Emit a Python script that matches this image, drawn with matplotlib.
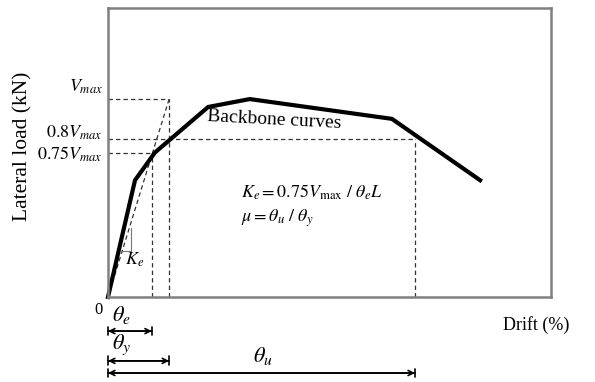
import matplotlib.pyplot as plt

plt.rcParams['font.family'] = ['Liberation Serif', 'DejaVu Serif']
plt.rcParams['mathtext.fontset'] = 'stix'

# backbone curve (drift %, load normalised to Vmax)
drift = [0.0, 0.61, 1.06, 2.26, 3.20, 6.41, 8.40]
load = [0.0, 0.59, 0.73, 0.96, 1.00, 0.90, 0.59]

v_max = 1.0
theta_e = 0.99
theta_y = 1.38
theta_u = 6.93

fig = plt.figure(figsize=(5.95, 3.82), dpi=100)
ax = fig.add_axes([0.1815, 0.2225, 0.7445, 0.7565])
ax.set_xlim(0, 10)
ax.set_ylim(0, 1.46)
ax.set_xticks([])
ax.set_yticks([])
for s in ax.spines.values():
    s.set_color('#808080')
    s.set_linewidth(1.8)

dash = dict(color='#333333', lw=0.9, ls=(0, (3.5, 2.5)))
# horizontal reference lines
ax.plot([0, theta_y], [v_max, v_max], **dash)
ax.plot([0, theta_u], [0.8 * v_max, 0.8 * v_max], **dash)
ax.plot([0, theta_e], [0.73 * v_max, 0.73 * v_max], **dash)
# vertical reference lines
ax.plot([theta_e, theta_e], [0, 0.73 * v_max], **dash)
ax.plot([theta_y, theta_y], [0, v_max], **dash)
ax.plot([theta_u, theta_u], [0, 0.8 * v_max], **dash)
# secant stiffness
ax.plot([0, theta_y], [0, v_max], **dash)

# small stiffness triangle
ax.plot([0.34, 0.52, 0.52], [0.23, 0.23, 0.35], color='#777777', lw=0.8)
ax.text(0.38, 0.19, r'$K_e$', fontsize=13, ha='left', va='center')

ax.plot(drift, load, color='black', lw=3, solid_joinstyle='miter', clip_on=False)

ax.text(3.76, 0.895, 'Backbone curves', fontsize=14, ha='center', va='center', rotation=-3)
ax.text(3.0, 0.53, r'$K_e=0.75V_{\mathrm{max}}\ /\ \theta_e L$', fontsize=13, ha='left', va='center')
ax.text(3.0, 0.40, r'$\mu=\theta_u\ /\ \theta_y$', fontsize=13, ha='left', va='center')

# labels on the left of the axis
ytr = ax.get_yaxis_transform()
ax.text(-0.012, v_max + 0.06, r'$V_{max}$', transform=ytr, fontsize=13, ha='right', va='center')
ax.text(-0.012, 0.8 * v_max + 0.03, r'$0.8V_{max}$', transform=ytr, fontsize=13, ha='right', va='center')
ax.text(-0.012, 0.73 * v_max - 0.01, r'$0.75V_{max}$', transform=ytr, fontsize=13, ha='right', va='center')

ax.set_ylabel('Lateral load (kN)', fontsize=15.5)
ax.yaxis.set_label_coords(-0.17, 0.52)
ax.text(0.966, -0.097, 'Drift (%)', transform=ax.transAxes, fontsize=13, ha='center', va='center')
ax.text(-0.012, -0.045, '0', transform=ax.transAxes, fontsize=12, ha='right', va='center')

# dimension arrows below the axis
xtr = ax.get_xaxis_transform()
head = dict(arrowstyle='<->', color='black', lw=1.2, shrinkA=0, shrinkB=0, mutation_scale=9)
bars = dict(arrowstyle='|-|,widthA=0.35,widthB=0.35', color='black', lw=1.2, shrinkA=0, shrinkB=0, mutation_scale=9)
for th, y_arr, y_txt, x_txt, name in [
    (theta_e, -0.118, -0.062, 0.30, r'$\theta_e$'),
    (theta_y, -0.221, -0.166, 0.30, r'$\theta_y$'),
    (theta_u, -0.263, -0.204, 3.50, r'$\theta_u$'),
]:
    for props in (head, bars):
        ax.annotate('', xy=(th, y_arr), xytext=(0, y_arr), xycoords=xtr, textcoords=xtr,
                    arrowprops=props, annotation_clip=False)
    ax.text(x_txt, y_txt, name, transform=xtr, fontsize=16, ha='center', va='center')

fig.savefig('out.png', dpi=100)
